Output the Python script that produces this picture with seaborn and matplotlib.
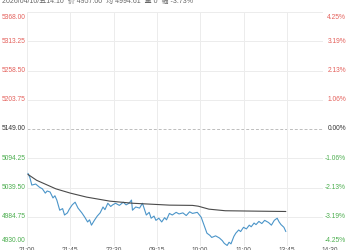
import matplotlib
matplotlib.use("Agg")
import matplotlib.pyplot as plt
import matplotlib.transforms as mtrans
import seaborn as sns
import pandas as pd

# ---- data ----
prev_close = 5149.00
y_levels = [5368.00, 5313.25, 5258.50, 5203.75, 5149.00, 5094.25, 5039.50, 4984.75, 4930.00]
pct_labels = ["4.25%", "3.19%", "2.13%", "1.06%", "0.00%", "-1.06%", "-2.13%", "-3.19%", "-4.25%"]
x_tick_pos = [0, 45, 90, 135, 180, 225, 270, 315]
x_tick_labels = ["21:00", "21:45", "22:30", "09:15", "10:00", "11:00", "13:45", "14:30"]

price_min = [1, 3, 5, 9, 13, 16, 19, 21, 24, 27, 29, 31, 34, 37, 39, 42, 44, 47, 50, 53,
             57, 60, 63, 65, 67, 70, 73, 76, 79, 81, 84, 87, 89, 92, 96, 100, 103, 106, 108.6, 109.6,
             113, 117, 120, 124, 127, 129, 132, 134, 137, 140, 143, 145, 148, 151, 155, 158, 162, 165.5, 169, 172,
             177, 181, 184, 187, 190, 192, 196, 200, 203, 205, 208, 210, 212, 215, 217, 220, 222, 225, 228, 231,
             233, 236, 238, 241, 244, 247, 251, 254, 257, 260, 262, 264, 267, 269]
price_val = [5066, 5058, 5044, 5046, 5040, 5037, 5029, 5033, 5031, 5020, 5024, 5016, 4997, 5000, 4988, 4992, 4999, 5007, 5012, 5001,
             4992, 4984, 4975, 4979, 4969, 4978, 4986, 4992, 5003, 4998, 5010, 5004, 5007, 5010, 5006, 5012, 5007, 5010, 5016, 4997,
             5003, 5001, 5010, 4988, 4993, 4982, 4986, 4978, 4982, 4975, 4983, 4979, 4991, 4988, 4993, 4990, 4992, 4987, 4994, 4991,
             4993, 4984, 4969, 4954, 4950, 4946, 4949, 4945, 4940, 4935, 4931, 4937, 4934, 4948, 4954, 4960, 4957, 4965, 4962, 4969,
             4966, 4973, 4970, 4976, 4972, 4978, 4974, 4969, 4978, 4982, 4975, 4970, 4965, 4957]

avg_min = [1, 10, 20, 30, 45, 62, 86, 110, 148, 172, 178, 189, 206, 240, 269]
avg_val = [5064, 5053, 5045, 5037, 5029, 5021.5, 5014, 5010, 5006.5, 5006, 5004.5, 4999, 4996, 4995.2, 4994.6]

header = "2026/04/10/五14:10  价 4957.00  均 4994.61  量 0  幅 -3.73%"

# ---- style ----
sns.set_theme(style="white")
plt.rcParams['font.family'] = ['Liberation Sans', 'Noto Sans CJK SC', 'DejaVu Sans']

RED = "#e4605b"
GREEN = "#4cae4f"
DARK = "#333333"
BLUE = "#4b95c9"
AVG = "#4a4a4a"

W, H = 350, 250
fig = plt.figure(figsize=(3.5, 2.5), dpi=100)
fig.patch.set_facecolor("white")
left_px, right_px, top_px, bot_px = 27, 323, 12, 246
ax = fig.add_axes([left_px / W, 1 - bot_px / H, (right_px - left_px) / W, (bot_px - top_px) / H])
ax.set_facecolor("white")

px_per_min = 43.3 / 45.0
ax.set_xlim(0, (right_px - left_px) / px_per_min)
ax.set_ylim(y_levels[-1], y_levels[0])

# grid
for lv in y_levels:
    if lv == prev_close:
        ax.axhline(lv, color="#bdbdbd", lw=0.7, ls=(0, (3, 2)), zorder=1)
    else:
        ax.axhline(lv, color="#ececec", lw=0.7, zorder=1)
for xp in x_tick_pos:
    ax.axvline(xp, color="#ececec", lw=0.7, zorder=1)

df_p = pd.DataFrame({"m": price_min, "v": price_val})
df_a = pd.DataFrame({"m": avg_min, "v": avg_val})
sns.lineplot(data=df_p, x="m", y="v", ax=ax, color=BLUE, lw=0.8, zorder=3)
sns.lineplot(data=df_a, x="m", y="v", ax=ax, color=AVG, lw=0.8, zorder=4)

ax.set_xticks([])
ax.set_yticks([])
ax.set_xlabel("")
ax.set_ylabel("")
for s in ax.spines.values():
    s.set_visible(False)

# y labels (left prices, right percents)
trans_l = mtrans.blended_transform_factory(fig.transFigure, ax.transData)
n = len(y_levels)
for i, (lv, pl) in enumerate(zip(y_levels, pct_labels)):
    col = RED if lv > prev_close else (DARK if lv == prev_close else GREEN)
    va = "top" if i == 0 else ("bottom" if i == n - 1 else "center")
    off = -1.5 if i == 0 else (1.5 if i == n - 1 else 0)
    ax.annotate(f"{lv:.2f}", xy=(2 / W, lv), xycoords=trans_l, xytext=(0, off), textcoords="offset points",
                ha="left", va=va, fontsize=4.8, color=col, annotation_clip=False)
    ax.annotate(pl, xy=(346 / W, lv), xycoords=trans_l, xytext=(0, off), textcoords="offset points",
                ha="right", va=va, fontsize=4.8, color=col, annotation_clip=False)

# x labels (partially cut at bottom, as in the reference)
trans_x = mtrans.blended_transform_factory(ax.transData, fig.transFigure)
for xp, xl in zip(x_tick_pos, x_tick_labels):
    ax.text(xp, 1 - 250.5 / H, xl, transform=trans_x, ha="center", va="center",
            fontsize=4.8, color="#555555", clip_on=False)

# header (top cut off, as in the reference)
fig.text(2 / W, 1 - 1.8 / H, header, ha="left", va="center", fontsize=5, color="#666666")

fig.savefig("out.png", dpi=100, facecolor="white")
